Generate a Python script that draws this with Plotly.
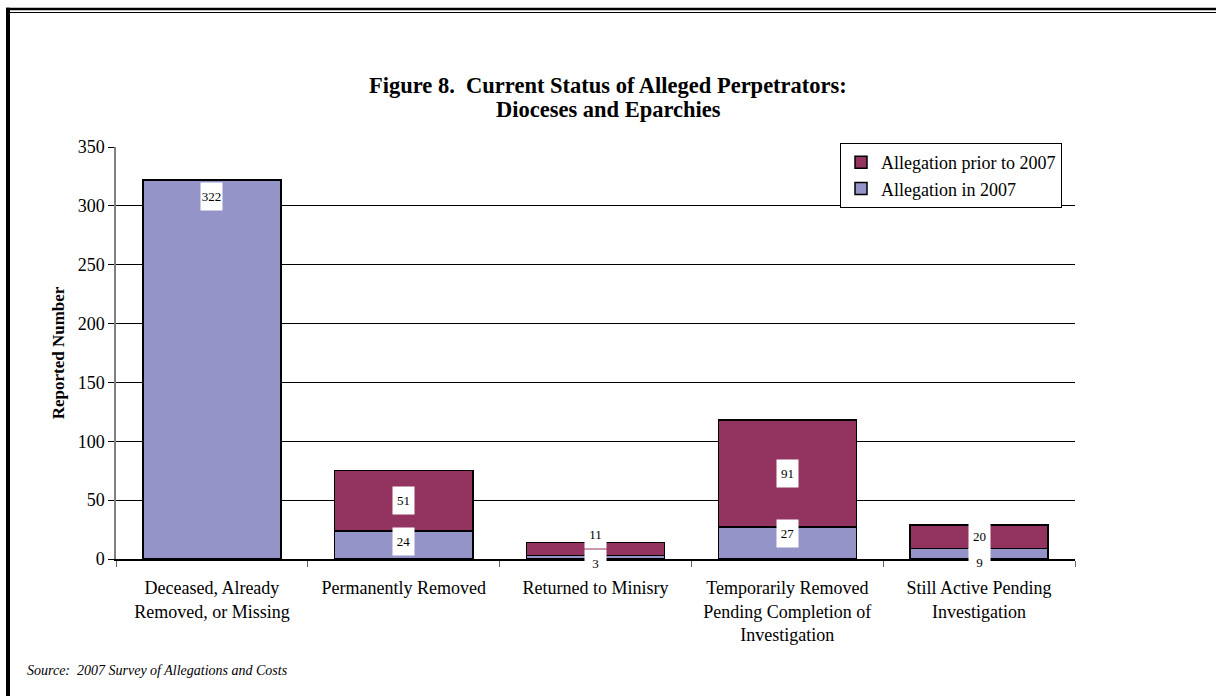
import plotly.graph_objects as go

categories = [
    "Deceased, Already<br>Removed, or Missing",
    "Permanently Removed",
    "Returned to Minisry",
    "Temporarily Removed<br>Pending Completion of<br>Investigation",
    "Still Active Pending<br>Investigation",
]
in_2007 = [322, 24, 3, 27, 9]
prior_2007 = [0, 51, 11, 91, 20]
y_ticks = [0, 50, 100, 150, 200, 250, 300, 350]
title_lines = ["Figure 8.  Current Status of Alleged Perpetrators:", "Dioceses and Eparchies"]
source_text = "Source:  2007 Survey of Allegations and Costs"

W, H = 1216, 696
ML, MR, MT, MB = 116, 141, 147, 137
PW, PH = W - ML - MR, H - MT - MB

def px_x(px):
    return (px - ML) / PW

def px_y(py):
    return (H - MB - py) / PH

FONT = "Liberation Serif, Times New Roman, serif"
LAV = "#9494C8"
PLUM = "#933360"

fig = go.Figure()
fig.add_trace(go.Bar(
    x=categories, y=in_2007, name="Allegation in 2007",
    marker=dict(color=LAV, line=dict(color="black", width=1.5)),
    hoverinfo="skip",
))
fig.add_trace(go.Bar(
    x=categories, y=prior_2007, name="Allegation prior to 2007",
    marker=dict(color=PLUM, line=dict(color="black", width=1.5)),
    hoverinfo="skip",
))

# data labels (pixel nudges mimic the reference's label placement)
shift_in = [0, 3, -6, 10, -9]
shift_prior = [0, 0, 14, 0, 0]
annotations = []
for i, c in enumerate(categories):
    v = in_2007[i]
    if v:
        if i == 0:
            yv, ys = v, -17
        else:
            yv, ys = v / 2, shift_in[i]
        annotations.append(dict(
            x=c, y=yv, yshift=ys, text=str(v), showarrow=False,
            bgcolor="white", width=19, height=25,
            font=dict(family=FONT, size=13, color="black"),
        ))
    p = prior_2007[i]
    if p:
        annotations.append(dict(
            x=c, y=v + p / 2, yshift=shift_prior[i], text=str(p), showarrow=False,
            bgcolor="white", width=19, height=25,
            font=dict(family=FONT, size=13, color="black"),
        ))

for line, py in zip(title_lines, [86, 109]):
    annotations.append(dict(
        xref="paper", yref="paper", x=px_x(W / 2), y=px_y(py),
        xanchor="center", yanchor="middle", showarrow=False,
        text="<b>" + line + "</b>",
        font=dict(family=FONT, size=22.5, color="black"),
    ))

annotations.append(dict(
    xref="paper", yref="paper", x=px_x(25), y=px_y(670),
    xanchor="left", yanchor="middle", showarrow=False,
    text="<i>" + source_text + "</i>",
    font=dict(family=FONT, size=14, color="black"),
))

shapes = [
    dict(type="line", xref="paper", yref="paper",
         x0=px_x(6), x1=px_x(W + 5), y0=px_y(9), y1=px_y(9),
         line=dict(color="black", width=2.5)),
    dict(type="line", xref="paper", yref="paper",
         x0=px_x(8), x1=px_x(W + 5), y0=px_y(12.5), y1=px_y(12.5),
         line=dict(color="black", width=1)),
    dict(type="line", xref="paper", yref="paper",
         x0=px_x(8), x1=px_x(8), y0=px_y(7.75), y1=px_y(H + 5),
         line=dict(color="black", width=4)),
]

fig.update_layout(
    width=W, height=H,
    margin=dict(l=ML, r=MR, t=MT, b=MB),
    paper_bgcolor="white", plot_bgcolor="white",
    barmode="stack", bargap=0.28,
    font=dict(family=FONT, size=18, color="black"),
    showlegend=True,
    legend=dict(
        x=px_x(1062), y=px_y(143), xanchor="right", yanchor="top",
        bgcolor="white", bordercolor="black", borderwidth=1,
        traceorder="reversed",
        font=dict(family=FONT, size=18, color="black"),
    ),
    annotations=annotations,
    shapes=shapes,
)
fig.update_xaxes(
    showline=True, linecolor="black", linewidth=1.5,
    ticks="outside", tickson="boundaries", ticklen=6, tickcolor="#666666",
    ticklabelstandoff=12,
    showgrid=False, tickfont=dict(family=FONT, size=18),
)
fig.update_yaxes(
    range=[0, 350], tickvals=y_ticks, ticks="outside", ticklen=6,
    tickcolor="black", showline=True, linecolor="#808080", linewidth=1.5,
    showgrid=True, gridcolor="black", gridwidth=1, zeroline=False,
    tickfont=dict(family=FONT, size=18),
    title=dict(text="<b>Reported Number</b>", standoff=9,
               font=dict(family=FONT, size=17)),
)

fig.write_html("out.html", config={"displayModeBar": False},
               post_script="document.body.style.margin='0';")
